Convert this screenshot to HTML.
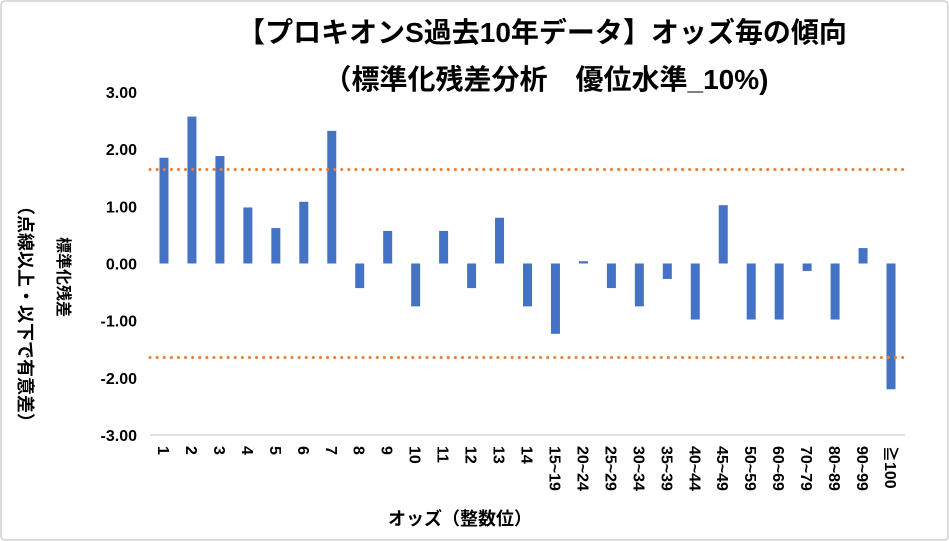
<!DOCTYPE html>
<html><head><meta charset="utf-8"><style>
body{margin:0;background:#fff}
svg{display:block;font-family:"Liberation Sans","Noto Sans CJK JP",sans-serif}
</style></head><body>
<svg id="chart" width="949" height="541" viewBox="0 0 949 541" xmlns="http://www.w3.org/2000/svg">
<rect x="1" y="1" width="947" height="539" rx="4" fill="#fff" stroke="#d0d0d0" stroke-width="1.5"/>
<text x="542" y="42" text-anchor="middle" font-size="28" font-weight="bold">【プロキオンS過去10年データ】オッズ毎の傾向</text>
<text x="546" y="89" text-anchor="middle" font-size="28" font-weight="bold">（標準化残差分析　優位水準_10%)</text>
<g id="yticks"></g>
<g id="bars"></g>
<g id="xlabels"></g>
<g id="refs"></g>
<text transform="translate(58,277) rotate(90)" text-anchor="middle" font-size="16" font-weight="bold">標準化残差</text>
<text transform="translate(19,314) rotate(90)" text-anchor="middle" font-size="18" font-weight="bold">（点線以上・以下で有意差）</text>
<text x="460" y="525" text-anchor="middle" font-size="18" font-weight="bold">オッズ（整数位）</text>
</svg>
<script>
const categories=["1","2","3","4","5","6","7","8","9","10","11","12","13","14","15~19","20~24","25~29","30~34","35~39","40~44","45~49","50~59","60~69","70~79","80~89","90~99","≧100"];
const values=[1.85,2.57,1.88,0.98,0.62,1.08,2.32,-0.43,0.57,-0.75,0.57,-0.43,0.80,-0.75,-1.23,0.04,-0.43,-0.75,-0.27,-0.98,1.02,-0.98,-0.98,-0.13,-0.98,0.27,-2.20];
const yTicks=[3,2,1,0,-1,-2,-3];
const thresholds=[1.645,-1.645];
const NS="http://www.w3.org/2000/svg";
const x0=150,x1=905,yTop=92,yBot=435,vMax=3,vMin=-3;
const y=v=>yTop+(vMax-v)/(vMax-vMin)*(yBot-yTop);
const bw=(x1-x0)/categories.length;
const xc=i=>x0+bw*(i+0.5);
function mk(tag,attrs,parent){const e=document.createElementNS(NS,tag);for(const k in attrs)e.setAttribute(k,attrs[k]);document.getElementById(parent).appendChild(e);return e;}
yTicks.forEach(t=>{
  const tx=mk('text',{x:137,y:y(t)+6,'text-anchor':'end','font-size':16,'font-weight':'bold'},'yticks');
  
  
  tx.textContent=t.toFixed(2);
});
const ax=mk('line',{x1:x0,x2:x1,y1:yBot,y2:yBot,stroke:'#d9d9d9','stroke-width':1.5},'yticks');


values.forEach((v,i)=>{
  const top=Math.min(y(v),y(0)),h=Math.abs(y(v)-y(0));
  const r=mk('rect',{x:xc(i)-4.5,y:top,width:9,height:Math.max(h,1),fill:'#4472c4'},'bars');
  
  
});
categories.forEach((c,i)=>{
  const t=mk('text',{transform:`translate(${xc(i)-6},446) rotate(90)`,'font-size':16,'font-weight':'bold'},'xlabels');
  
  
  t.textContent=c;
});
thresholds.forEach(v=>{
  const l=mk('line',{x1:x0,x2:x1,y1:y(v),y2:y(v),stroke:'#ed7d31','stroke-width':3,'stroke-dasharray':'0.1 7','stroke-linecap':'round'},'refs');
  
  
});
</script>
</body></html>
